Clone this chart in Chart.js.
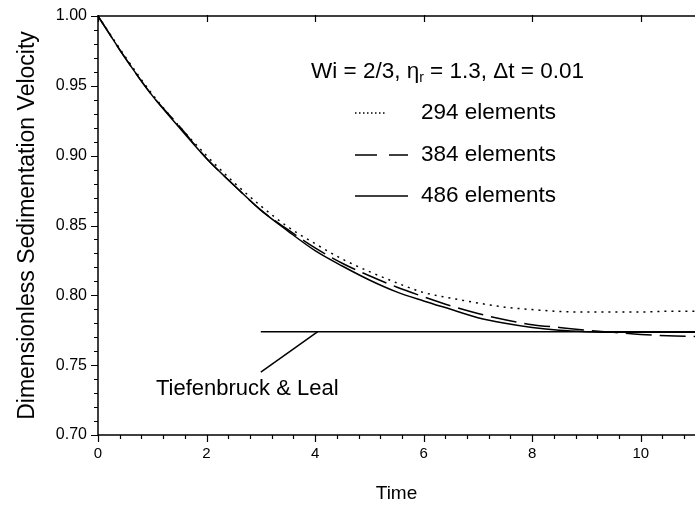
<!DOCTYPE html>
<html><head><meta charset="utf-8">
<script src="https://cdn.jsdelivr.net/npm/chart.js@4.4.0/dist/chart.umd.min.js"></script>
<style>html,body{margin:0;padding:0;background:#fff}#wrap{width:695px;height:510px}</style>
</head><body><div id="wrap"><canvas id="c" width="695" height="510"></canvas></div>
<script>
const timeValues = [0,0.5,1,1.5,2,2.5,3,3.5,4,4.5,5,5.5,6,6.5,7,7.5,8,8.5,9,9.5,10,10.5,11];
const v294 = [1.000,0.971,0.944,0.921,0.900,0.881,0.864,0.849,0.837,0.826,0.817,0.809,0.802,0.798,0.7945,0.7915,0.7898,0.7885,0.788,0.788,0.788,0.7886,0.7886];
const v384 = [1.000,0.970,0.943,0.921,0.898,0.879,0.861,0.847,0.834,0.823,0.814,0.806,0.799,0.7925,0.787,0.7825,0.779,0.777,0.775,0.7735,0.772,0.771,0.7705];
const v486 = [1.000,0.970,0.943,0.920,0.898,0.879,0.861,0.846,0.832,0.821,0.811,0.8025,0.796,0.790,0.784,0.780,0.777,0.775,0.774,0.7735,0.7735,0.7735,0.7735];
const refTime = [3, 11];
const refValue = [0.774, 0.774];
const leaderTime = [4.05, 3.0];
const leaderValue = [0.774, 0.745];
const seriesNames = ['294 elements','384 elements','486 elements'];
const yTickValues = [0.70,0.75,0.80,0.85,0.90,0.95,1.00];
const xTickValues = [0,2,4,6,8,10];

const FONT = "'Liberation Sans', Arial, sans-serif";
const pts = (xs, ys) => xs.map((x,i)=>({x, y: ys[i]}));

const axesPlugin = {
  id: 'axesPlugin',
  afterDraw(chart) {
    const ctx = chart.ctx, xs = chart.scales.x, ys = chart.scales.y;
    const {left, right, top, bottom} = chart.chartArea;
    ctx.save();
    ctx.strokeStyle = '#000';
    ctx.lineWidth = 1.5;
    ctx.beginPath();
    ctx.moveTo(left, top - 1); ctx.lineTo(left, bottom);
    ctx.moveTo(left, bottom); ctx.lineTo(right, bottom);
    ctx.moveTo(left, top); ctx.lineTo(right, top);
    ctx.stroke();
    ctx.lineWidth = 1.2;
    ctx.beginPath();
    for (let k = 0; k <= 30; k++) {
      const v = 0.70 + k * 0.01;
      const p = Math.round(ys.getPixelForValue(v)) + 0.5;
      const len = (k % 5 === 0) ? 7 : 4;
      ctx.moveTo(left - len, p); ctx.lineTo(left, p);
    }
    for (let k = 0; k <= 27; k++) {
      const v = k * 0.4;
      const p = Math.round(xs.getPixelForValue(v)) + 0.5;
      const len = (k % 5 === 0) ? 7 : 4;
      ctx.moveTo(p, bottom); ctx.lineTo(p, bottom + len);
    }
    xTickValues.forEach(v => {
      const p = Math.round(xs.getPixelForValue(v)) + 0.5;
      ctx.moveTo(p, top - 1); ctx.lineTo(p, top + 6);
    });
    ctx.stroke();

    ctx.fillStyle = '#000';
    ctx.textBaseline = 'middle';
    ctx.textAlign = 'left';
    const fs = 22.5;
    ctx.font = fs + 'px ' + FONT;
    let x = 311, y = 72;
    const p0 = 'Wi = 2/3, \u03b7';
    ctx.fillText(p0, x, y);
    x += ctx.measureText(p0).width;
    ctx.font = Math.round(fs*0.62) + 'px ' + FONT;
    ctx.fillText('r', x, y + 6);
    x += ctx.measureText('r').width;
    ctx.font = fs + 'px ' + FONT;
    ctx.fillText(' = 1.3, \u0394t = 0.01', x, y);

    const rows = [113, 155, 196];
    const dashes = [[1.5,2.5],[22,12],[]];
    const ends = [387, 408, 408];
    rows.forEach((ry, i) => {
      ctx.save();
      ctx.lineWidth = 1.3;
      ctx.setLineDash(dashes[i]);
      ctx.beginPath();
      ctx.moveTo(355, ry); ctx.lineTo(ends[i], ry);
      ctx.stroke();
      ctx.restore();
      ctx.fillText(seriesNames[i], 421, ry);
    });

    ctx.font = '22px ' + FONT;
    ctx.textAlign = 'center';
    ctx.fillText('Tiefenbruck & Leal', xs.getPixelForValue(2.75), ys.getPixelForValue(0.7327));
    ctx.restore();
  }
};

new Chart(document.getElementById('c'), {
  type: 'scatter',
  data: {
    datasets: [
      {label: seriesNames[0], data: pts(timeValues, v294), showLine: true, borderColor: '#000', borderWidth: 1.5, borderDash: [2,5], pointRadius: 0, cubicInterpolationMode: 'monotone', fill: false},
      {label: seriesNames[1], data: pts(timeValues, v384), showLine: true, borderColor: '#000', borderWidth: 1.5, borderDash: [26,8], pointRadius: 0, cubicInterpolationMode: 'monotone', fill: false},
      {label: seriesNames[2], data: pts(timeValues, v486), showLine: true, borderColor: '#000', borderWidth: 1.5, pointRadius: 0, cubicInterpolationMode: 'monotone', fill: false},
      {label: 'Tiefenbruck & Leal', data: pts(refTime, refValue), showLine: true, borderColor: '#000', borderWidth: 1.5, pointRadius: 0, fill: false},
      {label: 'leader', data: pts(leaderTime, leaderValue), showLine: true, borderColor: '#000', borderWidth: 1.5, pointRadius: 0, fill: false}
    ]
  },
  options: {
    responsive: false, animation: false, devicePixelRatio: 1,
    layout: {padding: {top: 16, right: 0, left: 0, bottom: 0}},
    plugins: {legend: {display: false}, tooltip: {enabled: false}},
    scales: {
      x: {
        type: 'linear', min: 0, max: 11,
        afterBuildTicks: s => { s.ticks = xTickValues.map(v => ({value: v})); },
        afterFit: s => { s.height = 75; s.paddingLeft = 0; s.paddingRight = 0; },
        ticks: {color: '#000', font: {family: FONT, size: 15}, padding: 10, maxRotation: 0, autoSkip: false, callback: v => String(v)},
        grid: {display: false, drawTicks: false}, border: {display: false},
        title: {display: true, text: 'Time', color: '#000', font: {family: FONT, size: 19}, padding: {top: 0, bottom: 5}}
      },
      y: {
        type: 'linear', min: 0.70, max: 1.00,
        afterBuildTicks: s => { s.ticks = yTickValues.map(v => ({value: v})); },
        afterFit: s => { s.width = 98; s.paddingTop = 0; s.paddingBottom = 0; },
        ticks: {color: '#000', font: {family: FONT, size: 16}, padding: 11, callback: v => v.toFixed(2)},
        grid: {display: false, drawTicks: false}, border: {display: false},
        title: {display: true, text: 'Dimensionless Sedimentation Velocity', color: '#000', font: {family: FONT, size: 23}, padding: {top: 14, bottom: 0}}
      }
    }
  },
  plugins: [axesPlugin]
});
</script></body></html>
